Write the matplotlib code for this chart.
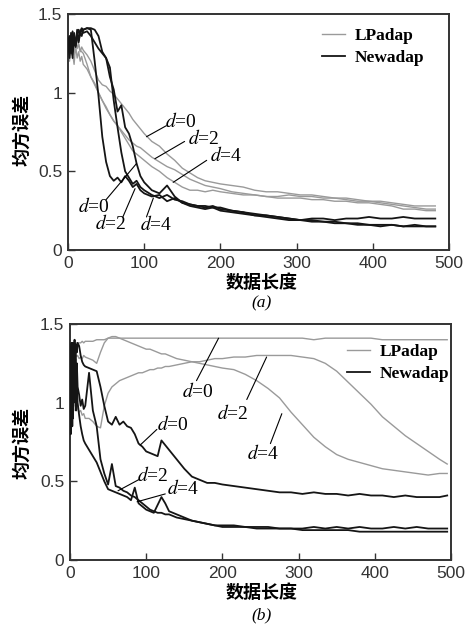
import matplotlib
matplotlib.use('Agg')
import matplotlib.pyplot as plt

plt.rcParams['mathtext.fontset'] = 'stix'

# ---------------- data ----------------
# panel (a)
x_a = [0, 2, 4, 6, 8, 10, 12, 14, 16, 18, 20,
       25, 30, 35, 40, 45, 50, 55, 60, 65, 70, 75, 80, 85, 90, 95, 100,
       110, 120, 130, 140, 150, 160, 170, 180, 190, 200,
       215, 230, 245, 260, 275, 290, 305, 320, 335, 350, 365, 380, 395, 410, 425, 440, 455, 470, 482]

a_lp_d0 = [1.30, 1.36, 1.24, 1.33, 1.28, 1.31, 1.35, 1.30, 1.26, 1.29, 1.27,
           1.24, 1.20, 1.14, 1.08, 1.05, 1.04, 1.01, 0.99, 0.96, 0.93, 0.90, 0.87, 0.83, 0.80, 0.77, 0.74,
           0.69, 0.66, 0.61, 0.57, 0.52, 0.49, 0.46, 0.44, 0.43, 0.42,
           0.41, 0.40, 0.38, 0.37, 0.37, 0.36, 0.35, 0.35, 0.34, 0.33, 0.33, 0.32, 0.31, 0.31, 0.30, 0.29, 0.28, 0.28, 0.28]
a_lp_d2 = [1.28, 1.20, 1.34, 1.25, 1.18, 1.30, 1.22, 1.26, 1.20, 1.23, 1.18,
           1.15, 1.10, 1.05, 1.00, 0.95, 0.90, 0.86, 0.82, 0.79, 0.76, 0.73, 0.70, 0.68, 0.66, 0.65, 0.63,
           0.59, 0.56, 0.53, 0.51, 0.48, 0.45, 0.43, 0.41, 0.40, 0.39,
           0.37, 0.36, 0.35, 0.34, 0.34, 0.35, 0.34, 0.34, 0.33, 0.33, 0.32, 0.31, 0.31, 0.30, 0.29, 0.28, 0.27, 0.26, 0.26]
a_lp_d4 = [1.33, 1.26, 1.38, 1.30, 1.24, 1.35, 1.28, 1.31, 1.27, 1.26, 1.25,
           1.18, 1.10, 1.06, 1.00, 0.95, 0.91, 0.86, 0.82, 0.79, 0.75, 0.71, 0.67, 0.63, 0.61, 0.59, 0.57,
           0.53, 0.50, 0.46, 0.43, 0.40, 0.38, 0.38, 0.37, 0.38, 0.37,
           0.36, 0.35, 0.35, 0.34, 0.33, 0.33, 0.33, 0.32, 0.32, 0.31, 0.31, 0.30, 0.30, 0.29, 0.28, 0.26, 0.26, 0.25, 0.25]
a_new_d0 = [1.32, 1.22, 1.38, 1.26, 1.35, 1.30, 1.40, 1.33, 1.38, 1.36, 1.40,
            1.41, 1.40, 1.20, 0.98, 0.72, 0.56, 0.47, 0.44, 0.46, 0.43, 0.47, 0.44, 0.40, 0.42, 0.38, 0.36,
            0.34, 0.35, 0.31, 0.33, 0.30, 0.29, 0.28, 0.27, 0.28, 0.26,
            0.25, 0.24, 0.23, 0.22, 0.21, 0.20, 0.19, 0.19, 0.18, 0.18, 0.17, 0.17, 0.16, 0.16, 0.16, 0.15, 0.16, 0.15, 0.15]
a_new_d2 = [1.28, 1.36, 1.25, 1.39, 1.30, 1.34, 1.37, 1.32, 1.39, 1.41, 1.40,
            1.41, 1.41, 1.40, 1.36, 1.26, 1.22, 1.16, 0.95, 0.78, 0.62, 0.50, 0.46, 0.42, 0.44, 0.40, 0.38,
            0.35, 0.33, 0.35, 0.32, 0.31, 0.29, 0.28, 0.28, 0.27, 0.27,
            0.25, 0.24, 0.22, 0.22, 0.21, 0.20, 0.19, 0.20, 0.20, 0.19, 0.20, 0.20, 0.21, 0.20, 0.20, 0.21, 0.20, 0.20, 0.20]
a_new_d4 = [1.35, 1.27, 1.33, 1.22, 1.38, 1.29, 1.36, 1.40, 1.37, 1.40, 1.38,
            1.39, 1.36, 1.32, 1.28, 1.25, 1.22, 1.10, 1.02, 0.88, 0.92, 0.78, 0.74, 0.66, 0.55, 0.47, 0.43,
            0.38, 0.36, 0.41, 0.34, 0.30, 0.28, 0.27, 0.26, 0.27, 0.25,
            0.24, 0.23, 0.22, 0.21, 0.20, 0.19, 0.19, 0.18, 0.18, 0.17, 0.17, 0.16, 0.16, 0.15, 0.16, 0.15, 0.15, 0.15, 0.15]

# panel (b)
x_b = [0, 1, 2, 3, 4, 5, 6, 7, 8, 9, 10, 12, 14, 16, 18, 20,
       25, 30, 35, 40, 45, 50, 55, 60, 65, 70, 75, 80, 85, 90, 95, 100,
       105, 110, 115, 120, 125, 130, 140, 150, 160, 170, 180, 190, 200,
       215, 230, 245, 260, 275, 290, 305, 320, 335, 350, 365, 380, 395, 410, 425, 440, 455, 470, 485, 495]

b_lp_d0 = [1.38, 1.36, 1.37, 1.38, 1.37, 1.38, 1.38, 1.37, 1.38, 1.38, 1.38, 1.38, 1.38, 1.39, 1.38, 1.39,
           1.39, 1.39, 1.40, 1.40, 1.40, 1.41, 1.41, 1.41, 1.41, 1.41, 1.41, 1.41, 1.41, 1.41, 1.41, 1.41,
           1.41, 1.41, 1.41, 1.41, 1.41, 1.41, 1.41, 1.41, 1.41, 1.41, 1.41, 1.41, 1.41,
           1.41, 1.41, 1.41, 1.41, 1.41, 1.41, 1.41, 1.40, 1.41, 1.41, 1.41, 1.41, 1.41, 1.40, 1.40, 1.40, 1.40, 1.40, 1.40, 1.40]
b_lp_d2 = [1.30, 1.05, 1.20, 0.95, 1.10, 0.98, 1.02, 0.95, 0.98, 1.00, 0.96, 0.94, 0.95, 0.92, 0.93, 0.90,
           0.90, 0.88, 0.85, 0.84, 0.98, 1.06, 1.10, 1.12, 1.14, 1.15, 1.16, 1.17, 1.18, 1.19, 1.19, 1.20,
           1.21, 1.21, 1.22, 1.22, 1.23, 1.23, 1.24, 1.25, 1.26, 1.26, 1.27, 1.28, 1.28,
           1.29, 1.29, 1.30, 1.30, 1.30, 1.30, 1.29, 1.28, 1.25, 1.20, 1.13, 1.06, 0.99, 0.91, 0.85, 0.79, 0.74, 0.69, 0.64, 0.61]
b_lp_d4 = [1.40, 1.32, 1.36, 1.30, 1.34, 1.31, 1.32, 1.30, 1.29, 1.30, 1.30, 1.28, 1.29, 1.28, 1.30, 1.29,
           1.28, 1.27, 1.25, 1.32, 1.38, 1.41, 1.42, 1.42, 1.41, 1.40, 1.39, 1.38, 1.37, 1.36, 1.35, 1.34,
           1.34, 1.33, 1.32, 1.31, 1.31, 1.30, 1.28, 1.27, 1.26, 1.25, 1.24, 1.23, 1.22,
           1.21, 1.18, 1.14, 1.09, 1.03, 0.94, 0.86, 0.78, 0.72, 0.67, 0.64, 0.62, 0.60, 0.58, 0.57, 0.56, 0.55, 0.54, 0.55, 0.55]
b_new_d0 = [1.10, 1.35, 0.95, 1.38, 1.05, 1.30, 1.40, 1.20, 1.37, 1.32, 1.38, 1.36, 1.30, 1.26, 1.24, 1.23,
            1.22, 1.21, 1.20, 1.10, 0.98, 0.88, 0.86, 0.91, 0.86, 0.88, 0.85, 0.84, 0.80, 0.74, 0.72, 0.69,
            0.68, 0.67, 0.66, 0.76, 0.73, 0.70, 0.64, 0.58, 0.53, 0.51, 0.49, 0.49, 0.48,
            0.47, 0.46, 0.45, 0.44, 0.43, 0.43, 0.42, 0.43, 0.42, 0.42, 0.41, 0.42, 0.41, 0.41, 0.40, 0.41, 0.40, 0.40, 0.40, 0.41]
b_new_d2 = [0.90, 1.30, 1.38, 0.85, 1.25, 1.00, 1.34, 1.30, 1.12, 1.25, 1.10, 1.05, 0.98, 1.02, 0.96, 0.98,
            1.19, 0.95, 0.85, 0.64, 0.55, 0.48, 0.61, 0.47, 0.46, 0.44, 0.43, 0.41, 0.40, 0.38, 0.36, 0.34,
            0.32, 0.31, 0.30, 0.30, 0.29, 0.29, 0.27, 0.26, 0.25, 0.24, 0.23, 0.22, 0.22,
            0.22, 0.21, 0.21, 0.21, 0.20, 0.20, 0.20, 0.21, 0.20, 0.21, 0.20, 0.21, 0.20, 0.20, 0.21, 0.20, 0.21, 0.20, 0.20, 0.20]
b_new_d4 = [1.20, 0.80, 1.35, 1.10, 0.90, 1.38, 1.05, 1.28, 0.95, 1.15, 1.00, 0.92, 0.85, 0.80, 0.76, 0.74,
            0.70, 0.66, 0.62, 0.56, 0.50, 0.45, 0.44, 0.43, 0.42, 0.41, 0.40, 0.38, 0.46, 0.36, 0.34, 0.32,
            0.31, 0.30, 0.35, 0.40, 0.36, 0.31, 0.29, 0.27, 0.25, 0.24, 0.23, 0.22, 0.21,
            0.21, 0.21, 0.20, 0.20, 0.20, 0.20, 0.19, 0.19, 0.19, 0.19, 0.19, 0.18, 0.18, 0.18, 0.18, 0.18, 0.18, 0.18, 0.18, 0.18]

x_ticks = [0, 100, 200, 300, 400, 500]
y_ticks = [0, 0.5, 1, 1.5]
y_ticklabels = ['0', '0.5', '1', '1.5']
legend_names = ['LPadap', 'Newadap']
d_labels = [r'$d$=0', r'$d$=2', r'$d$=4']

# label layout: (text x, text y, pointer start, pointer end) in data units
ann_a_lp = [(127, 0.815, (129, 0.79), (103, 0.72)),
            (158, 0.71, (153, 0.69), (114, 0.58)),
            (186, 0.60, (182, 0.57), (138, 0.43))]
ann_a_new = [(13, 0.275, (50, 0.32), (90, 0.55)),
             (35, 0.17, (72, 0.21), (88, 0.39)),
             (94, 0.16, (103, 0.21), (112, 0.33))]
ann_b_lp = [(147, 1.07, (166, 1.14), (195, 1.41)),
            (193, 0.93, (232, 1.02), (258, 1.29)),
            (232, 0.68, (263, 0.74), (278, 0.93))]
ann_b_new = [(114, 0.86, (114, 0.83), (92, 0.73)),
             (88, 0.54, (90, 0.51), (63, 0.44)),
             (127, 0.455, (125, 0.42), (88, 0.37))]

GRAY = '#9a9a9a'
BLACK = '#151515'
CJK = ['Noto Sans CJK SC', 'DejaVu Sans']


def draw_panel(ax, x, lp, new, anns, leg_anchor):
    for y in lp:
        l1, = ax.plot(x, y, color=GRAY, lw=1.0, zorder=2)
    for y in new:
        l2, = ax.plot(x, y, color=BLACK, lw=1.3, zorder=3)

    for (tx, ty, p0, p1), lab in zip(anns, d_labels * 2):
        ax.text(tx, ty, lab, ha='left', va='center', fontsize=14,
                family='Liberation Serif', zorder=5)
        ax.annotate('', xy=p1, xytext=p0,
                    arrowprops=dict(arrowstyle='-', lw=0.8, color='k',
                                    shrinkA=0, shrinkB=0), zorder=5)

    ax.legend([l1, l2], legend_names, loc='center left', bbox_to_anchor=leg_anchor,
              frameon=False, handlelength=1.3, handletextpad=0.6, labelspacing=0.35,
              borderpad=0, borderaxespad=0,
              prop={'family': 'Liberation Serif', 'weight': 'bold', 'size': 12.5})

    ax.set_xlim(0, 500)
    ax.set_ylim(0, 1.5)
    ax.set_xticks(x_ticks)
    ax.set_yticks(y_ticks)
    ax.set_yticklabels(y_ticklabels)
    ax.tick_params(direction='in', length=5, width=1, colors='#333333',
                   labelsize=12.5, pad=4)
    for lab in ax.get_xticklabels() + ax.get_yticklabels():
        lab.set_family('Liberation Sans')
    for s in ax.spines.values():
        s.set_linewidth(1.4)
        s.set_color('#333333')


fig = plt.figure(figsize=(4.74, 6.26), dpi=100)
W, H = 474.0, 626.0

ax1 = fig.add_axes([68 / W, 1 - 250 / H, 381 / W, 236 / H])
draw_panel(ax1, x_a, [a_lp_d0, a_lp_d2, a_lp_d4], [a_new_d0, a_new_d2, a_new_d4],
           ann_a_lp + ann_a_new, (0.667, 0.86))

ax2 = fig.add_axes([70 / W, 1 - 560 / H, 381 / W, 236 / H])
draw_panel(ax2, x_b, [b_lp_d0, b_lp_d2, b_lp_d4], [b_new_d0, b_new_d2, b_new_d4],
           ann_b_lp + ann_b_new, (0.727, 0.835))

# axis titles and panel marks
for cy, ly, mark, my in [(282, 130, '(a)', 303), (592, 443, '(b)', 615)]:
    fig.text(262 / W, 1 - cy / H, '数据长度', ha='center', va='center',
             fontsize=13, weight='bold', family=CJK)
    fig.text(22 / W, 1 - ly / H, '均方误差', ha='center', va='center', rotation=90,
             fontsize=13, weight='bold', family=CJK)
    fig.text(262 / W, 1 - my / H, mark, ha='center', va='center',
             fontsize=12.5, style='italic', family='Liberation Serif')

fig.savefig('out.png', dpi=100)
